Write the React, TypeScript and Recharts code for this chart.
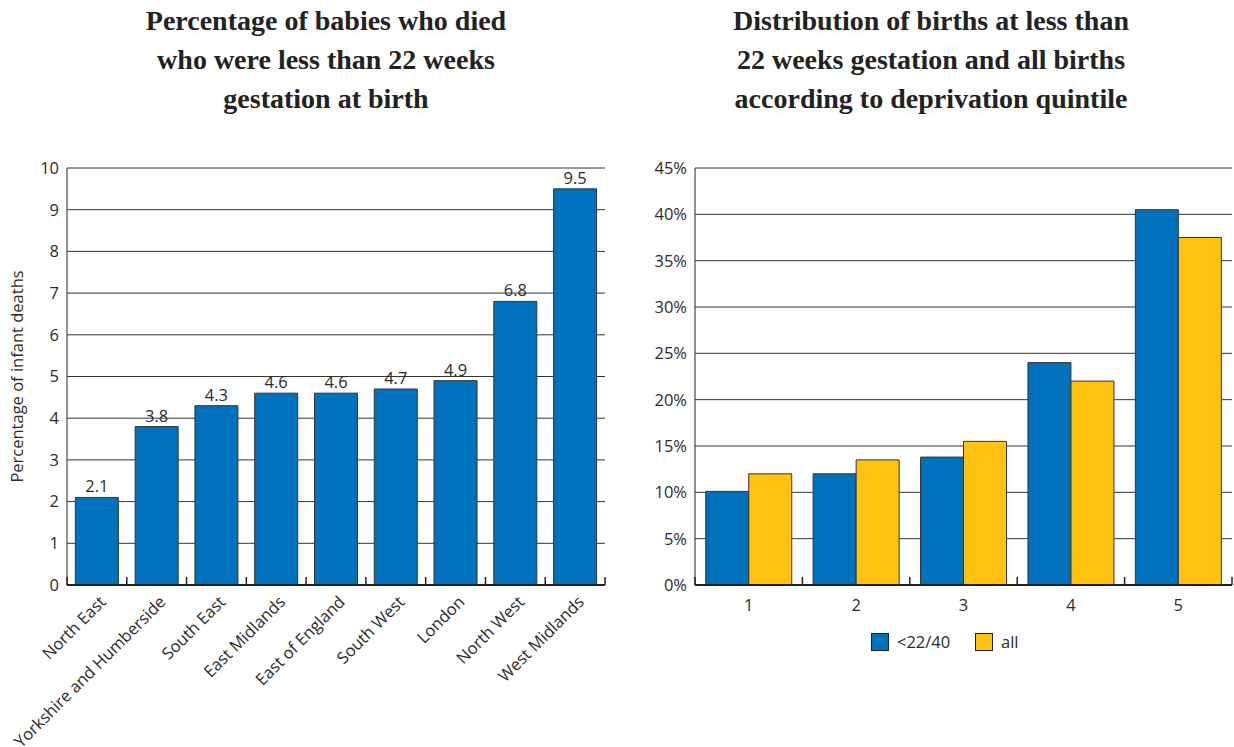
import React from 'react'
import { BarChart, Bar, XAxis, YAxis, CartesianGrid, LabelList, Label } from 'recharts'

// left chart: share of infant deaths under 22 weeks, by region
const regions = [
  'North East',
  'Yorkshire and Humberside',
  'South East',
  'East Midlands',
  'East of England',
  'South West',
  'London',
  'North West',
  'West Midlands',
]
const infantDeathPct = [2.1, 3.8, 4.3, 4.6, 4.6, 4.7, 4.9, 6.8, 9.5]
const infantTicks = [0, 1, 2, 3, 4, 5, 6, 7, 8, 9, 10]

// right chart: births by deprivation quintile
const quintiles = ['1', '2', '3', '4', '5']
const under22Pct = [10.1, 12, 13.8, 24, 40.5]
const allBirthsPct = [12, 13.5, 15.5, 22, 37.5]
const quintileTicks = [0, 5, 10, 15, 20, 25, 30, 35, 40, 45]

const seriesNames = { under22: '<22/40', all: 'all' }

const BLUE = '#0071BC'
const YELLOW = '#FFC20F'
const INK = '#2b2b2b'
const FONT = '"Open Sans", sans-serif'
const FS = 16.5

const regionData = regions.map((name, i) => ({ name, pct: infantDeathPct[i] }))
const quintileData = quintiles.map((q, i) => ({ q, under22: under22Pct[i], all: allBirthsPct[i] }))

// category tick: label plus the little boundary marks that sit between bars
function CategoryTick(props: any) {
  const { x, y, payload, index, step, axisY, count, rotate } = props
  const left = x - step / 2
  const right = x + step / 2
  return (
    <g>
      <line x1={left} x2={left} y1={axisY} y2={axisY - 8} stroke="#222" strokeWidth={1.5} />
      {index === count - 1 && (
        <line x1={right} x2={right} y1={axisY} y2={axisY - 8} stroke="#222" strokeWidth={1.5} />
      )}
      {rotate ? (
        <text
          x={x + 10}
          y={y + 10}
          textAnchor="end"
          fill={INK}
          fontSize={FS}
          fontFamily={FONT}
          transform={`rotate(-45, ${x + 10}, ${y + 10})`}
        >
          {payload.value}
        </text>
      ) : (
        <text x={x} y={y} dy={13} textAnchor="middle" fill={INK} fontSize={FS} fontFamily={FONT}>
          {payload.value}
        </text>
      )}
    </g>
  )
}

const titleStyle: React.CSSProperties = {
  position: 'absolute',
  top: 1,
  width: 600,
  textAlign: 'center',
  fontFamily: '"Liberation Serif", serif',
  fontWeight: 'bold',
  fontSize: 28,
  lineHeight: '39px',
  color: '#222',
}

function LegendItem({ color, label, left }: { color: string; label: string; left: number }) {
  return (
    <div style={{ position: 'absolute', top: 630, left, display: 'flex', alignItems: 'center' }}>
      <span
        style={{
          display: 'inline-block',
          width: 16,
          height: 16,
          background: color,
          border: '1px solid #222',
        }}
      />
      <span style={{ marginLeft: 8, fontFamily: FONT, fontSize: FS, color: INK }}>{label}</span>
    </div>
  )
}

export default function App() {
  const leftStep = (605 - 67) / regions.length
  const rightStep = (612 - 75) / quintiles.length

  return (
    <div style={{ position: 'absolute', left: 0, top: 0, width: 1234, height: 747, background: '#fff' }}>
      <div style={{ ...titleStyle, left: 26 }}>
        Percentage of babies who died
        <br />
        who were less than 22 weeks
        <br />
        gestation at birth
      </div>
      <div style={{ ...titleStyle, left: 631 }}>
        Distribution of births at less than
        <br />
        22 weeks gestation and all births
        <br />
        according to deprivation quintile
      </div>

      <div style={{ position: 'absolute', left: 0, top: 0 }}>
        <BarChart
          width={615}
          height={747}
          data={regionData}
          margin={{ top: 168, right: 10, left: 7, bottom: 0 }}
          barCategoryGap="14%"
        >
          <CartesianGrid vertical={false} stroke="#333" strokeWidth={1} />
          <XAxis
            dataKey="name"
            height={162}
            interval={0}
            tickLine={false}
            axisLine={{ stroke: '#222', strokeWidth: 2 }}
            tick={(p: any) => (
              <CategoryTick {...p} step={leftStep} axisY={585} count={regions.length} rotate />
            )}
          />
          <YAxis
            width={60}
            domain={[0, 10]}
            ticks={infantTicks}
            interval={0}
            tickLine={false}
            axisLine={{ stroke: '#222' }}
            tick={{ fill: INK, fontSize: FS, fontFamily: FONT }}
          >
            <Label
              value="Percentage of infant deaths"
              angle={-90}
              position="insideLeft"
              offset={10}
              style={{ textAnchor: 'middle', fill: INK, fontSize: 16.5, fontFamily: FONT }}
            />
          </YAxis>
          <Bar dataKey="pct" fill={BLUE} stroke="#333" strokeWidth={1} isAnimationActive={false}>
            <LabelList dataKey="pct" position="top" fill={INK} fontSize={FS} fontFamily={FONT} />
          </Bar>
        </BarChart>
      </div>

      <div style={{ position: 'absolute', left: 620, top: 0 }}>
        <BarChart
          width={614}
          height={747}
          data={quintileData}
          margin={{ top: 168, right: 2, left: 0, bottom: 0 }}
          barCategoryGap="10%"
          barGap={0}
        >
          <CartesianGrid vertical={false} stroke="#333" strokeWidth={1} />
          <XAxis
            dataKey="q"
            height={162}
            interval={0}
            tickLine={false}
            tickMargin={7}
            axisLine={{ stroke: '#222', strokeWidth: 2 }}
            tick={(p: any) => (
              <CategoryTick {...p} step={rightStep} axisY={585} count={quintiles.length} />
            )}
          />
          <YAxis
            width={75}
            domain={[0, 45]}
            ticks={quintileTicks}
            interval={0}
            tickLine={false}
            axisLine={{ stroke: '#222' }}
            tickFormatter={(v: number) => `${v}%`}
            tick={{ fill: INK, fontSize: FS, fontFamily: FONT }}
          />
          <Bar dataKey="under22" name={seriesNames.under22} fill={BLUE} stroke="#333" strokeWidth={1} isAnimationActive={false} />
          <Bar dataKey="all" name={seriesNames.all} fill={YELLOW} stroke="#333" strokeWidth={1} isAnimationActive={false} />
        </BarChart>
      </div>

      <LegendItem color={BLUE} label={seriesNames.under22} left={871} />
      <LegendItem color={YELLOW} label={seriesNames.all} left={975} />
    </div>
  )
}
